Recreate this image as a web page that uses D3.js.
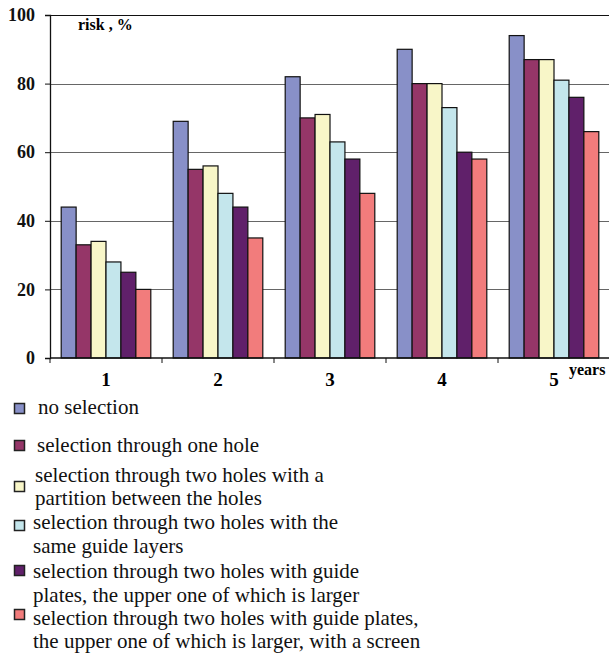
<!DOCTYPE html>
<html>
<head>
<meta charset="utf-8">
<script src="https://cdn.jsdelivr.net/npm/d3@7"></script>
<style>
  body { margin: 0; background: #fff; }
  svg { display: block; }
  svg text { font-family: "Liberation Serif", "Times New Roman", Times, "DejaVu Serif", serif; }
</style>
</head>
<body>
<svg id="chart" width="609" height="655"></svg>
<script>
// years on the x axis
const years = ['1', '2', '3', '4', '5']
const yTicks = [0, 20, 40, 60, 80, 100]

// one array per selection method (risk, %)
const noSelection = [44, 69, 82, 90, 94]
const oneHole = [33, 55, 70, 80, 87]
const partition = [34, 56, 71, 80, 87]
const sameLayers = [28, 48, 63, 73, 81]
const guidePlates = [25, 44, 58, 60, 76]
const guideScreen = [20, 35, 48, 58, 66]

const seriesNames = [
  'no selection',
  'selection through one hole',
  'selection through two holes with a|partition between the holes',
  'selection through two holes with the|same guide layers',
  'selection through two holes with guide|plates, the upper one of which is larger',
  'selection through two holes with guide plates,|the upper one of which is larger, with a screen'
]
const seriesValues = [noSelection, oneHole, partition, sameLayers, guidePlates, guideScreen]
const colors = ['#8890c8', '#953668', '#f8f6c8', '#c4e6ec', '#60206a', '#f27c7c']

const svg = d3.select('#chart')
const margin = { top: 15, left: 50, right: -1, bottom: 297 }
const width = 609 - margin.left - margin.right
const height = 655 - margin.top - margin.bottom

const g = svg.append('g')
  .attr('transform', `translate(${margin.left},${margin.top})`)

const x = d3.scaleBand().domain(years).range([0, width])
  .paddingInner(0.2).paddingOuter(0.1)
const xs = d3.scaleBand().domain(d3.range(seriesNames.length)).range([0, x.bandwidth()])
const y = d3.scaleLinear().domain([0, 100]).range([height, 0])

// horizontal grid lines
g.append('g')
  .selectAll('line')
  .data(yTicks.filter(d => d > 0))
  .enter().append('line')
  .attr('x1', 0).attr('x2', width)
  .attr('y1', d => Math.round(y(d)) + 0.5)
  .attr('y2', d => Math.round(y(d)) + 0.5)
  .attr('stroke', d => d === 100 ? '#111' : '#666')
  .attr('stroke-width', 1)

// bars
const groups = g.selectAll('g.year')
  .data(years)
  .enter().append('g')
  .attr('class', 'year')
  .attr('transform', d => `translate(${x(d)},0)`)

groups.selectAll('rect')
  .data((d, i) => seriesValues.map((s, k) => ({ k: k, value: s[i] })))
  .enter().append('rect')
  .attr('x', d => xs(d.k))
  .attr('y', d => y(d.value))
  .attr('width', xs.bandwidth())
  .attr('height', d => height - y(d.value))
  .attr('fill', d => colors[d.k])
  .attr('stroke', '#111')
  .attr('stroke-width', 1.2)

// y axis
const yAxis = g.append('g')
  .attr('class', 'axis y')
  .call(d3.axisLeft(y).tickValues(yTicks).tickSize(5).tickPadding(10))
yAxis.attr('font-family', null)
yAxis.select('.domain').attr('stroke', '#111').attr('stroke-width', 1.3)
yAxis.selectAll('.tick line').attr('stroke', '#111')
yAxis.selectAll('text')
  .attr('fill', '#111')
  .style('font-size', '18px')
  .style('font-weight', 'bold')

// x axis: line, boundary ticks, centred labels
const xg = g.append('g').attr('transform', `translate(0,${height})`)
xg.append('line')
  .attr('x1', 0).attr('x2', width)
  .attr('y1', 0).attr('y2', 0)
  .attr('stroke', '#111').attr('stroke-width', 1.3)
xg.selectAll('line.tick')
  .data(years)
  .enter().append('line')
  .attr('class', 'tick')
  .attr('x1', d => x(d) - x.step() * x.paddingOuter())
  .attr('x2', d => x(d) - x.step() * x.paddingOuter())
  .attr('y1', 0).attr('y2', 5)
  .attr('stroke', '#111')
xg.selectAll('text')
  .data(years)
  .enter().append('text')
  .attr('x', d => x(d) + x.bandwidth() / 2)
  .attr('y', 28)
  .attr('text-anchor', 'middle')
  .style('font-size', '19px')
  .style('font-weight', 'bold')
  .text(d => d)

// axis titles
g.append('text')
  .attr('x', 28).attr('y', 15)
  .style('font-size', '16px')
  .style('font-weight', 'bold')
  .text('risk , %')
svg.append('text')
  .attr('x', 569).attr('y', 375)
  .style('font-size', '16px')
  .style('font-weight', 'bold')
  .text('years')

// legend
const legendRows = [
  { box: 403, lines: [414] },
  { box: 440, lines: [452] },
  { box: 481, lines: [482, 505] },
  { box: 520, lines: [529, 553] },
  { box: 565, lines: [578, 602] },
  { box: 609, lines: [625, 648] }
]
const textX = [38, 37, 35, 33, 33, 33]

const legend = svg.append('g').attr('class', 'legend')
seriesNames.forEach(function (name, i) {
  const row = legendRows[i]
  legend.append('rect')
    .attr('x', 14.5).attr('y', row.box + 0.5)
    .attr('width', 10).attr('height', 10)
    .attr('fill', colors[i])
    .attr('stroke', '#222')
    .attr('stroke-width', 1.5)
  name.split('|').forEach(function (line, j) {
    legend.append('text')
      .attr('x', textX[i]).attr('y', row.lines[j])
      .style('font-size', '21px')
      .attr('fill', '#111')
      .text(line)
  })
})
</script>
</body>
</html>
